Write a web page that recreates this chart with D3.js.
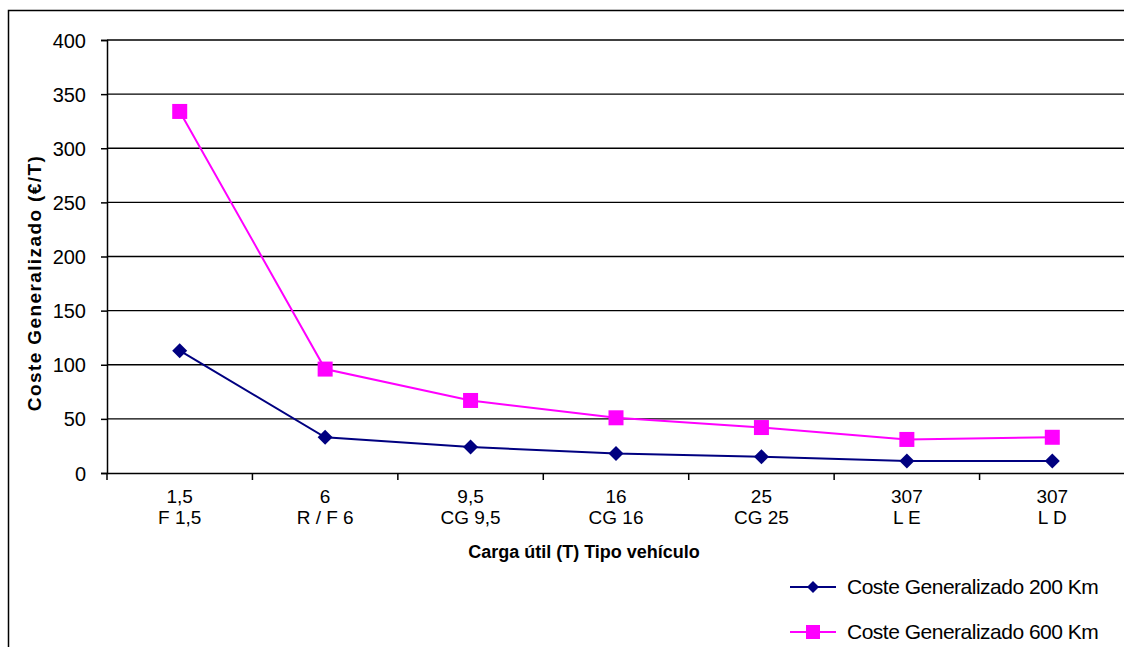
<!DOCTYPE html>
<html><head><meta charset="utf-8">
<script src="https://cdn.jsdelivr.net/npm/d3@7"></script>
<style>body{margin:0;background:#fff;} svg{display:block;font-family:"Liberation Sans",Arial,sans-serif;}</style>
</head><body>
<script>
const categories = ["1,5|F 1,5","6|R / F 6","9,5|CG 9,5","16|CG 16","25|CG 25","307|L E","307|L D"];
const serie200 = [113, 33, 24, 18, 15, 11, 11];
const serie600 = [334, 96, 67, 51, 42, 31, 33];
const seriesNames = ["Coste Generalizado 200 Km","Coste Generalizado 600 Km"];
const yTicks = [0,50,100,150,200,250,300,350,400];

const W=1124,H=647;
const svg=d3.select("body").append("svg").attr("width",W).attr("height",H);
// outer frame
svg.append("rect").attr("x",8.5).attr("y",10.5).attr("width",1200).attr("height",800)
  .attr("fill","none").attr("stroke","#000").attr("stroke-width",1.5);

const L=107,R=1125,T=40,B=473;
const x=d3.scaleBand().domain(categories).range([L,R]).padding(0);
const y=d3.scaleLinear().domain([0,400]).range([B,T]);

// gridlines
svg.append("g").selectAll("line").data(yTicks.filter(d=>d>0)).join("line")
  .attr("x1",L).attr("x2",R).attr("y1",d=>y(d)).attr("y2",d=>y(d))
  .attr("stroke","#000").attr("stroke-width",1.3);

// y axis
const ya=svg.append("g").attr("transform",`translate(${L},0)`)
  .call(d3.axisLeft(y).tickValues(yTicks).tickSize(6).tickPadding(15).tickFormat(d=>d));
ya.select(".domain").attr("stroke","#000").attr("stroke-width",1.5);
ya.selectAll(".tick line").attr("stroke","#000").attr("stroke-width",1.5);
ya.selectAll("text").attr("font-size",20).attr("fill","#000").attr("font-family","Liberation Sans, Arial").attr("dy","0.35em");

// x axis
const xa=svg.append("g").attr("transform",`translate(0,${B})`)
  .call(d3.axisBottom(x).tickSize(0).tickFormat(""));
xa.select(".domain").attr("stroke","#000").attr("stroke-width",1.5);
// tick marks at band boundaries
const bounds=categories.map(c=>x(c)).concat([R]);
svg.append("g").selectAll("line").data(bounds).join("line")
  .attr("x1",d=>d).attr("x2",d=>d).attr("y1",B).attr("y2",B+7)
  .attr("stroke","#000").attr("stroke-width",1.5);
// labels
const lab=svg.append("g").selectAll("text").data(categories).join("text")
  .attr("x",d=>x(d)+x.bandwidth()/2).attr("text-anchor","middle")
  .attr("font-size",19).attr("fill","#000");
lab.append("tspan").attr("x",d=>x(d)+x.bandwidth()/2).attr("y",B+30).text(d=>d.split("|")[0]);
lab.append("tspan").attr("x",d=>x(d)+x.bandwidth()/2).attr("y",B+51).text(d=>d.split("|")[1]);

// axis titles
svg.append("text").attr("x",584).attr("y",558).attr("text-anchor","middle")
  .attr("font-size",18).attr("font-weight","bold").text("Carga útil (T) Tipo vehículo");
svg.append("text").attr("transform","translate(41,283) rotate(-90)").attr("text-anchor","middle")
  .attr("font-size",19).attr("font-weight","bold").attr("letter-spacing",1.4).text("Coste Generalizado (€/T)");

const cx=(d,i)=>x(categories[i])+x.bandwidth()/2;
const line=d3.line().x((d,i)=>cx(d,i)).y(d=>y(d));

// series 600
svg.append("path").datum(serie600).attr("d",line).attr("fill","none").attr("stroke","#ff00ff").attr("stroke-width",2);
svg.append("g").selectAll("rect").data(serie600).join("rect")
  .attr("x",(d,i)=>cx(d,i)-7.5).attr("y",d=>y(d)-7.5).attr("width",15).attr("height",15).attr("fill","#ff00ff");
// series 200
svg.append("path").datum(serie200).attr("d",line).attr("fill","none").attr("stroke","#000080").attr("stroke-width",2);
const diamond=(s)=>`M0,${-s}L${s},0L0,${s}L${-s},0Z`;
svg.append("g").selectAll("path.m").data(serie200).join("path")
  .attr("d",diamond(7.5))
  .attr("transform",(d,i)=>`translate(${cx(d,i)},${y(d)})`).attr("fill","#000080");

// legend
const lg=svg.append("g");
const ly=[587,632];
lg.append("line").attr("x1",790).attr("x2",836).attr("y1",ly[0]).attr("y2",ly[0]).attr("stroke","#000080").attr("stroke-width",2);
lg.append("path").attr("d",diamond(6)).attr("transform",`translate(813,${ly[0]})`).attr("fill","#000080");
lg.append("line").attr("x1",790).attr("x2",836).attr("y1",ly[1]).attr("y2",ly[1]).attr("stroke","#ff00ff").attr("stroke-width",2);
lg.append("rect").attr("x",806).attr("y",ly[1]-7).attr("width",14).attr("height",14).attr("fill","#ff00ff");
lg.selectAll("text").data(seriesNames).join("text").attr("x",847).attr("y",(d,i)=>ly[i]+7)
  .attr("font-size",21).attr("letter-spacing",-0.5).text(d=>d);
</script>
</body></html>
